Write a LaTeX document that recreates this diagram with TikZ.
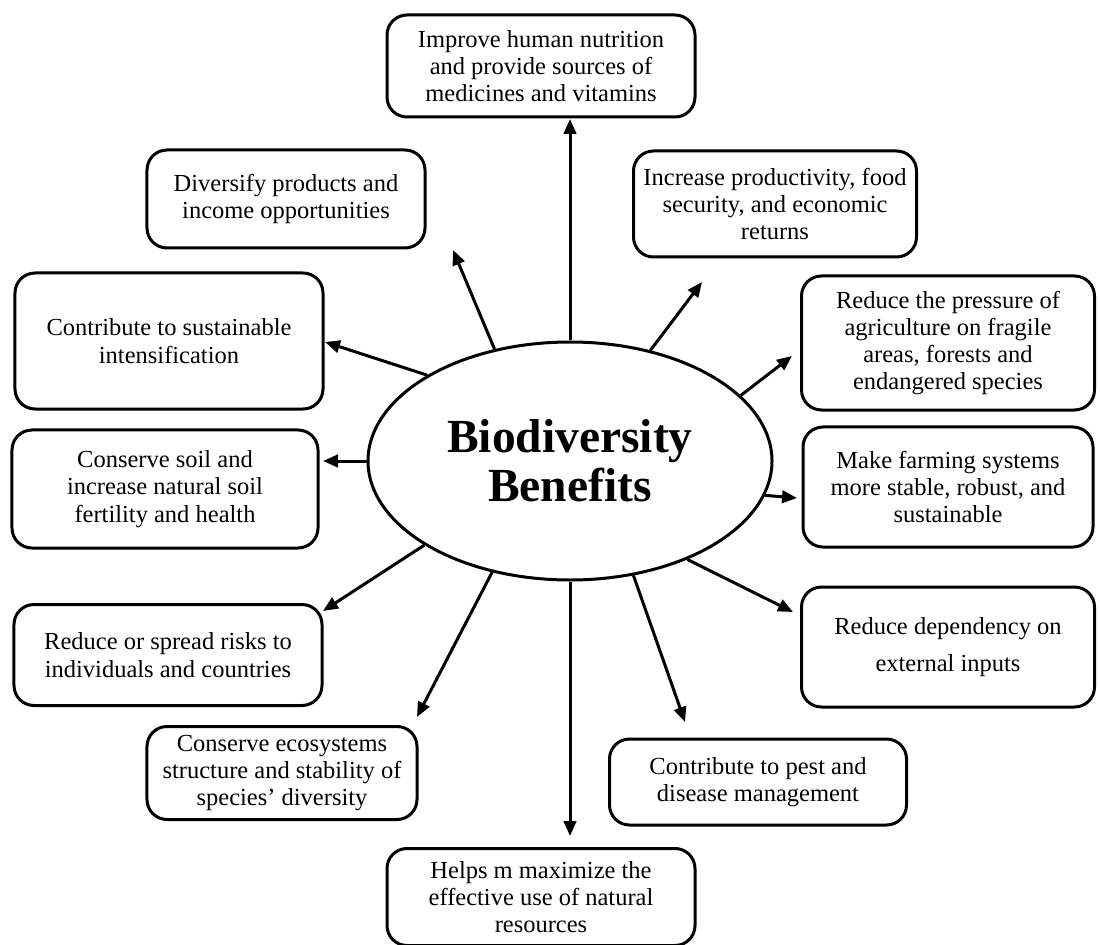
\documentclass[tikz,border=0pt]{standalone}
\usepackage{fontspec}
\setmainfont{Liberation Serif}
\usetikzlibrary{shapes.geometric,arrows.meta}

\begin{document}
\begin{tikzpicture}[x=0.4pt,y=-0.4pt,
    benefit/.style={draw,line width=1.2pt,rounded corners=8pt,align=center,
      inner sep=2pt,font=\fontsize{9.8}{10.9}\selectfont},
    hub/.style={draw,ellipse,line width=1.2pt,inner sep=0pt,align=center,
      minimum width=161.6pt,minimum height=95.2pt,
      font=\fontsize{19}{19.4}\selectfont\bfseries},
    arr/.style={line width=1.2pt,-{Triangle[length=6pt,width=5pt]}}]

  \useasboundingbox (0,0) rectangle (1100,945);

  % centre
  \node[hub] (bio) at (570,461) {Biodiversity\\Benefits};

  % boxes round the centre
  \node[benefit,minimum width=123.2pt,minimum height=40.8pt] (nutri) at (541,66)
    {Improve human nutrition\\and provide sources of\\medicines and vitamins};
  \node[benefit,minimum width=111.2pt,minimum height=39.2pt] (divers) at (286,199)
    {Diversify products and\\income opportunities};
  \node[benefit,minimum width=113.2pt,minimum height=42.4pt] (prod) at (775,204)
    {Increase productivity, food\\security, and economic\\returns};
  \node[benefit,minimum width=123.2pt,minimum height=54.4pt] (intens) at (169,341)
    {Contribute to sustainable\\intensification};
  \node[benefit,minimum width=117.2pt,minimum height=53.6pt] (press) at (948,343)
    {Reduce the pressure of\\agriculture on fragile\\areas, forests and\\endangered species};
  \node[benefit,minimum width=122.4pt,minimum height=47.2pt] (soil) at (165,489)
    {Conserve soil and\\increase natural soil\\fertility and health};
  \node[benefit,minimum width=116pt,minimum height=48pt] (farm) at (948,487)
    {Make farming systems\\more stable, robust, and\\sustainable};
  \node[benefit,minimum width=123.2pt,minimum height=40.4pt] (risk) at (168,655)
    {Reduce or spread risks to\\individuals and countries};
  \node[benefit,minimum width=117.2pt,minimum height=48pt] (depend) at (948,647)
    {Reduce dependency on\\[4pt]external inputs};
  \node[benefit,minimum width=108pt,minimum height=37.2pt] (eco) at (282,773)
    {Conserve ecosystems\\structure and stability of\\species' diversity};
  \node[benefit,minimum width=118.8pt,minimum height=34.4pt] (pest) at (758,782)
    {Contribute to pest and\\disease management};
  \node[benefit,minimum width=123.2pt,minimum height=38.8pt] (natres) at (541,897)
    {Helps m maximize the\\effective use of natural\\resources};

  % arrow tips
  \coordinate (tnutri) at (570,119);
  \coordinate (tdivers) at (453,250);
  \coordinate (tprod) at (702,282);
  \coordinate (tintens) at (325,342);
  \coordinate (tpress) at (792,356);
  \coordinate (tsoil) at (323,461);
  \coordinate (tfarm) at (797,498);
  \coordinate (trisk) at (323,611);
  \coordinate (tdepend) at (793,612);
  \coordinate (teco) at (417,717);
  \coordinate (tpest) at (685,722);
  \coordinate (tnatres) at (570,836);

  \draw[arr] (bio.north) -- (tnutri);
  \draw[arr] (bio.124.7) -- (tdivers);
  \draw[arr] (bio.54.2) -- (tprod);
  \draw[arr] (bio.149.6) -- (tintens);
  \draw[arr] (bio.21.6) -- (tpress);
  \draw[arr] (bio.west) -- (tsoil);
  \draw[arr] (bio.-10.9) -- (tfarm);
  \draw[arr] (bio.210.8) -- (trisk);
  \draw[arr] (bio.-40.7) -- (tdepend);
  \draw[arr] (bio.235.1) -- (teco);
  \draw[arr] (bio.-61.7) -- (tpest);
  \draw[arr] (bio.south) -- (tnatres);
\end{tikzpicture}
\end{document}
